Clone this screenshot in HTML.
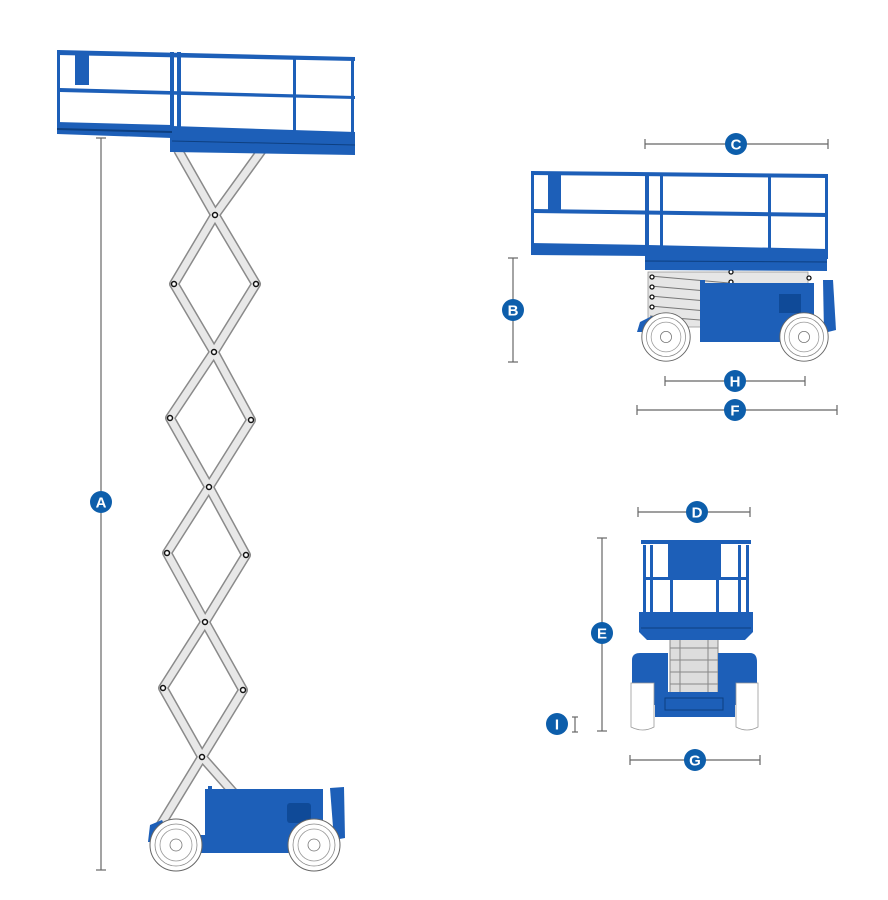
<!DOCTYPE html>
<html><head><meta charset="utf-8"><style>
html,body{margin:0;padding:0;background:#fff;width:888px;height:900px;overflow:hidden}
svg{display:block}
.lbl{font-family:"Liberation Sans",sans-serif;font-weight:bold;font-size:15px;fill:#fff;text-anchor:middle}
</style></head><body>
<svg width="888" height="900" viewBox="0 0 888 900" xmlns="http://www.w3.org/2000/svg">
<defs>
<g id="wheel"><circle r="26" fill="#fff" stroke="#666" stroke-width="1"/><circle r="21" fill="none" stroke="#888" stroke-width="0.8"/><circle r="16" fill="none" stroke="#999" stroke-width="0.8"/><circle r="6" fill="none" stroke="#777" stroke-width="0.8"/></g>
</defs>

<!-- ===== LEFT TALL MACHINE ===== -->
<!-- scissor arms -->
<g fill="none" stroke-linejoin="round">
<polyline points="178,150 215,215 256,284 214,352 170,418 209,487 246,555 205,622 163,688 202,757 240,800" stroke="#8a8a8a" stroke-width="10"/>
<polyline points="262,150 215,215 174,284 214,352 251,420 209,487 167,553 205,622 243,690 202,757 160,826" stroke="#8a8a8a" stroke-width="10"/>
<polyline points="178,150 215,215 256,284 214,352 170,418 209,487 246,555 205,622 163,688 202,757 240,800" stroke="#e8e8e8" stroke-width="7"/>
<polyline points="262,150 215,215 174,284 214,352 251,420 209,487 167,553 205,622 243,690 202,757 160,826" stroke="#e8e8e8" stroke-width="7"/>
</g>
<g fill="#fff" stroke="#111" stroke-width="1.5">
<circle cx="215" cy="215" r="2.5"/><circle cx="174" cy="284" r="2.5"/><circle cx="256" cy="284" r="2.5"/>
<circle cx="214" cy="352" r="2.5"/><circle cx="170" cy="418" r="2.5"/><circle cx="251" cy="420" r="2.5"/>
<circle cx="209" cy="487" r="2.5"/><circle cx="167" cy="553" r="2.5"/><circle cx="246" cy="555" r="2.5"/>
<circle cx="205" cy="622" r="2.5"/><circle cx="163" cy="688" r="2.5"/><circle cx="243" cy="690" r="2.5"/>
<circle cx="202" cy="757" r="2.5"/>
</g>
<!-- platform -->
<g fill="#1d5fb8">
<polygon points="57,50 355,57 355,61 57,55"/>
<polygon points="60,88 355,96 355,99 60,92"/>
<rect x="57" y="50" width="3" height="80"/>
<rect x="170" y="52" width="4" height="100"/>
<rect x="177" y="52" width="4" height="75"/>
<rect x="293" y="56" width="3" height="82"/>
<rect x="351" y="57" width="3" height="90"/>
<rect x="75" y="54" width="14" height="31"/>
<polygon points="57,122 172,125 172,138 57,134"/>
<polygon points="172,126 355,132 355,155 172,152"/>
</g>
<polygon points="57,128 172,131 172,133 57,130" fill="#0d3f80"/>
<line x1="172" y1="141" x2="355" y2="145" stroke="#0d3f80" stroke-width="1"/>
<!-- base -->
<rect x="205" y="789" width="118" height="62" fill="#1d5fb8"/>
<rect x="208" y="786" width="4" height="6" fill="#1d5fb8"/>
<rect x="287" y="803" width="24" height="20" fill="#0f4a98" rx="3"/>
<rect x="200" y="835" width="130" height="18" fill="#1d5fb8"/>
<polygon points="330,788 344,787 345,838 334,840" fill="#1d5fb8"/>
<path d="M148,842 L150,825 L162,820 L165,826 L155,830 L153,842 Z" fill="#1d5fb8"/>
<use href="#wheel" x="176" y="845"/>
<use href="#wheel" x="314" y="845"/>
<!-- dim A -->
<g stroke="#666" stroke-width="1.2"><line x1="101" y1="138" x2="101" y2="870"/><line x1="96" y1="138" x2="106" y2="138"/><line x1="96" y1="870" x2="106" y2="870"/></g>
<circle cx="101" cy="502" r="11" fill="#0d5eab"/><text class="lbl" x="101" y="507.5">A</text>

<!-- ===== SIDE VIEW ===== -->
<g stroke="#666" stroke-width="1.2"><line x1="645" y1="144" x2="828" y2="144"/><line x1="645" y1="139" x2="645" y2="149"/><line x1="828" y1="139" x2="828" y2="149"/></g>
<circle cx="736" cy="144" r="11" fill="#0d5eab"/><text class="lbl" x="736" y="149.5">C</text>
<!-- scissor stack -->
<rect x="648" y="272" width="160" height="55" fill="#e6e6e6" stroke="#999" stroke-width="0.8"/>
<g stroke="#777" stroke-width="1"><line x1="650" y1="276" x2="808" y2="290"/><line x1="650" y1="286" x2="808" y2="300"/><line x1="650" y1="296" x2="808" y2="310"/><line x1="650" y1="306" x2="808" y2="320"/><line x1="650" y1="316" x2="700" y2="320"/></g>
<g fill="#fff" stroke="#111" stroke-width="1.3"><circle cx="652" cy="277" r="2"/><circle cx="652" cy="287" r="2"/><circle cx="652" cy="297" r="2"/><circle cx="652" cy="307" r="2"/><circle cx="731" cy="272" r="2"/><circle cx="731" cy="282" r="2"/><circle cx="809" cy="278" r="2"/></g>
<g fill="#1d5fb8">
<polygon points="531,171 828,174 828,178 531,175"/>
<polygon points="534,209 828,213 828,217 534,213"/>
<rect x="531" y="171" width="3" height="80"/>
<rect x="645" y="173" width="4" height="90"/>
<rect x="660" y="173" width="3" height="75"/>
<rect x="768" y="174" width="3" height="80"/>
<rect x="825" y="174" width="3" height="85"/>
<rect x="548" y="175" width="13" height="35"/>
<polygon points="531,243 648,245 648,256 531,255"/>
<polygon points="648,245 827,249 827,271 645,270 645,262"/>
<rect x="700" y="283" width="114" height="59"/>
<rect x="700" y="280" width="5" height="6"/>
<polygon points="823,280 833,280 836,330 824,333"/>
<path d="M637,332 L640,322 L652,316 L656,322 L646,326 L643,332 Z"/>
</g>
<rect x="779" y="294" width="22" height="19" fill="#0f4a98"/>
<line x1="645" y1="261" x2="827" y2="262" stroke="#0d3f80" stroke-width="1"/>
<use href="#wheel" x="666" y="337" transform="translate(666 337) scale(0.93) translate(-666 -337)"/>
<use href="#wheel" x="804" y="337" transform="translate(804 337) scale(0.93) translate(-804 -337)"/>
<g stroke="#666" stroke-width="1.2"><line x1="513" y1="258" x2="513" y2="362"/><line x1="508" y1="258" x2="518" y2="258"/><line x1="508" y1="362" x2="518" y2="362"/>
<line x1="665" y1="381" x2="805" y2="381"/><line x1="665" y1="376" x2="665" y2="386"/><line x1="805" y1="376" x2="805" y2="386"/>
<line x1="637" y1="410" x2="837" y2="410"/><line x1="637" y1="405" x2="637" y2="415"/><line x1="837" y1="405" x2="837" y2="415"/></g>
<circle cx="513" cy="310" r="11" fill="#0d5eab"/><text class="lbl" x="513" y="315.5">B</text>
<circle cx="735" cy="381" r="11" fill="#0d5eab"/><text class="lbl" x="735" y="386.5">H</text>
<circle cx="735" cy="410" r="11" fill="#0d5eab"/><text class="lbl" x="735" y="415.5">F</text>

<!-- ===== FRONT VIEW ===== -->
<g stroke="#666" stroke-width="1.2"><line x1="638" y1="512" x2="750" y2="512"/><line x1="638" y1="507" x2="638" y2="517"/><line x1="750" y1="507" x2="750" y2="517"/>
<line x1="602" y1="538" x2="602" y2="731"/><line x1="597" y1="538" x2="607" y2="538"/><line x1="597" y1="731" x2="607" y2="731"/>
<line x1="575" y1="717" x2="575" y2="732"/><line x1="572" y1="717" x2="578" y2="717"/><line x1="572" y1="732" x2="578" y2="732"/>
<line x1="630" y1="760" x2="760" y2="760"/><line x1="630" y1="755" x2="630" y2="765"/><line x1="760" y1="755" x2="760" y2="765"/></g>
<circle cx="697" cy="512" r="11" fill="#0d5eab"/><text class="lbl" x="697" y="517.5">D</text>
<circle cx="602" cy="633" r="11" fill="#0d5eab"/><text class="lbl" x="602" y="638.5">E</text>
<circle cx="557" cy="724" r="11" fill="#0d5eab"/><text class="lbl" x="557" y="729.5">I</text>
<circle cx="695" cy="760" r="11" fill="#0d5eab"/><text class="lbl" x="695" y="765.5">G</text>
<!-- front scissor -->
<rect x="670" y="636" width="48" height="58" fill="#ddd" stroke="#888" stroke-width="1"/>
<g stroke="#888" stroke-width="1"><line x1="670" y1="648" x2="718" y2="648"/><line x1="670" y1="660" x2="718" y2="660"/><line x1="670" y1="672" x2="718" y2="672"/><line x1="670" y1="684" x2="718" y2="684"/><line x1="680" y1="636" x2="680" y2="694"/><line x1="708" y1="636" x2="708" y2="694"/></g>
<!-- chassis -->
<path d="M632,660 Q632,653 640,653 L668,653 L668,705 L632,705 Z" fill="#1d5fb8"/>
<path d="M718,653 L750,653 Q757,653 757,662 L757,705 L718,705 Z" fill="#1d5fb8"/>
<rect x="655" y="692" width="80" height="25" fill="#1d5fb8"/>
<rect x="665" y="698" width="58" height="12" fill="none" stroke="#0d3f80" stroke-width="1"/>
<path d="M631,683 L654,683 L654,727 Q643,733 631,727 Z" fill="#fff" stroke="#999" stroke-width="0.8"/>
<path d="M736,683 L758,683 L758,727 Q747,733 736,727 Z" fill="#fff" stroke="#999" stroke-width="0.8"/>
<!-- front platform -->
<g fill="#1d5fb8">
<rect x="641" y="540" width="110" height="4"/>
<rect x="643" y="545" width="3" height="70"/><rect x="746" y="545" width="3" height="70"/>
<rect x="650" y="545" width="3" height="70"/><rect x="738" y="545" width="3" height="70"/>
<rect x="668" y="542" width="53" height="36"/>
<rect x="646" y="577" width="100" height="3"/>
<rect x="670" y="580" width="3" height="32"/><rect x="716" y="580" width="3" height="32"/>
<polygon points="639,612 753,612 753,632 745,640 647,640 639,632"/>
</g>
<line x1="641" y1="628" x2="751" y2="628" stroke="#0d3f80" stroke-width="1"/>
</svg>
</body></html>
